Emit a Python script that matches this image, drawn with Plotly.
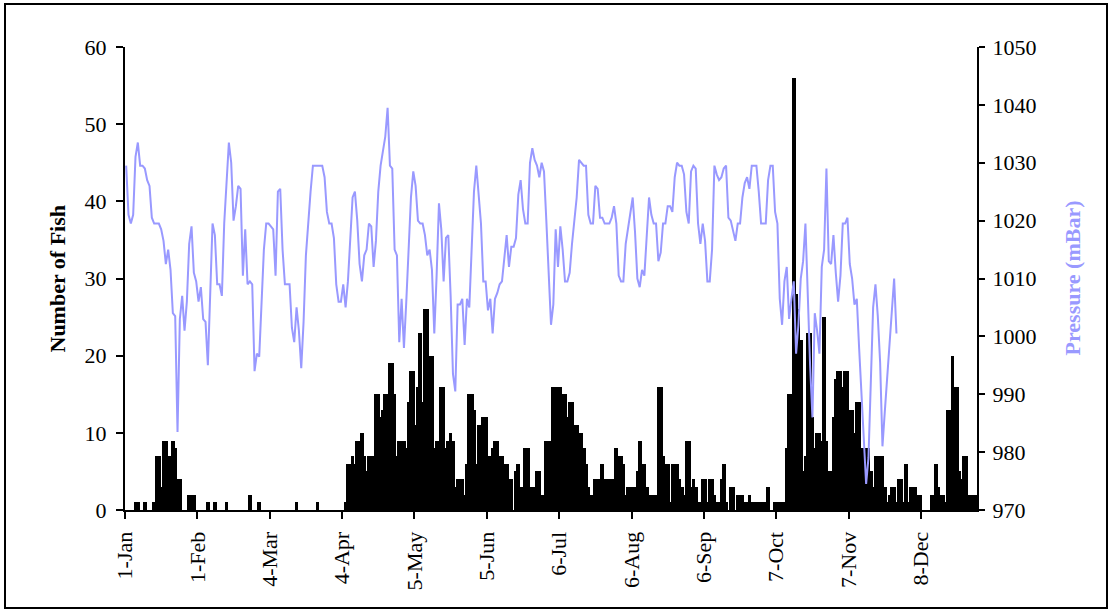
import pandas as pd
import plotly.graph_objects as go

YEAR = 2007

# Daily fish counts, one list per month
fish_jan = [0, 0, 0, 0, 1, 1, 0, 0, 1, 0, 0, 0, 1, 7, 7, 3, 9, 9, 7, 7,
            9, 8, 4, 4, 0, 0, 0, 2, 2, 2, 0]
fish_feb = [0, 0, 0, 0, 1, 0, 0, 1, 0, 0, 0, 0, 1, 0, 0, 0, 0, 0, 0, 0,
            0, 0, 2, 0, 0, 0, 1, 0]
fish_mar = [0, 0, 0, 0, 0, 0, 0, 0, 0, 0, 0, 0, 0, 0, 1, 0, 0, 0, 0, 0,
            0, 0, 0, 1, 0, 0, 0, 0, 0, 0, 0]
fish_apr = [0, 0, 0, 0, 1, 6, 6, 7, 6, 9, 9, 10, 7, 5, 7, 7, 7, 15, 15, 12,
            13, 15, 15, 19, 19, 15, 7, 9, 9, 9]
fish_may = [8, 14, 18, 18, 11, 16, 23, 14, 26, 26, 20, 20, 8, 9, 9, 16, 16, 8, 9, 10,
            9, 3, 4, 4, 4, 2, 6, 15, 15, 13, 6]
fish_jun = [11, 11, 12, 12, 7, 7, 8, 9, 9, 7, 7, 6, 6, 4, 4, 0, 5, 6, 3, 3,
            8, 8, 3, 3, 3, 5, 5, 2, 2, 9]
fish_jul = [9, 6, 16, 16, 16, 16, 15, 15, 12, 14, 14, 11, 11, 10, 10, 8, 6, 3, 2, 2,
            4, 4, 4, 6, 4, 3, 4, 4, 4, 8, 7]
fish_aug = [7, 6, 2, 3, 3, 3, 3, 5, 9, 6, 6, 3, 2, 2, 2, 2, 16, 16, 7, 6,
            6, 1, 6, 6, 6, 4, 3, 2, 9, 9, 3]
fish_sep = [4, 3, 1, 1, 4, 4, 1, 4, 4, 2, 1, 1, 4, 6, 1, 0, 3, 3, 0, 2,
            2, 2, 1, 1, 2, 1, 1, 1, 1, 1]
fish_oct = [1, 1, 3, 0, 0, 1, 1, 1, 1, 1, 8, 15, 15, 56, 28, 26, 22, 5, 7, 23,
            23, 12, 8, 10, 10, 9, 25, 9, 5, 5, 12]
fish_nov = [17, 18, 18, 16, 18, 18, 13, 13, 10, 14, 14, 8, 8, 8, 8, 5, 3, 7, 7, 7,
            7, 3, 1, 2, 3, 3, 1, 4, 4, 1]
fish_dec = [6, 1, 3, 3, 3, 2, 2, 0, 0, 0, 0, 2, 2, 6, 3, 2, 2, 1, 13, 13,
            20, 16, 16, 5, 4, 7, 7, 2, 2, 2, 2]

# Daily mean air pressure (mBar), one list per month; record stops late November
pres_jan = [1029.5, 1021, 1019.5, 1021, 1031, 1033.5, 1029.5, 1029.5, 1029, 1027,
            1026, 1020.5, 1019.5, 1019.5, 1019.5, 1018.5, 1016.5, 1012.5, 1015, 1011.5,
            1004, 1003.5, 983.5, 1003, 1007, 1001, 1006, 1016, 1019, 1011, 1009.5]
pres_feb = [1006, 1008.5, 1003, 1002.5, 995, 1009, 1019.5, 1017.5, 1009, 1009,
            1007, 1019.5, 1027.5, 1033.5, 1030, 1020, 1022.5, 1026, 1025.5, 1010.5,
            1018.5, 1009, 1009.5, 1009, 994, 997, 996.5, 1005]
pres_mar = [1015, 1019.5, 1019.5, 1019, 1018.5, 1010.5, 1025, 1025.5, 1015, 1009,
            1009, 1009, 1001.5, 999, 1005, 1001, 994.5, 1002.5, 1014, 1020,
            1025, 1029.5, 1029.5, 1029.5, 1029.5, 1029.5, 1027.5, 1021.5, 1019.5, 1019.5, 1017]
pres_apr = [1009, 1006, 1006, 1009, 1005, 1009.5, 1016, 1024, 1025, 1020,
            1012.5, 1009.5, 1014, 1015, 1019.5, 1019, 1012, 1016.5, 1025, 1029.5,
            1032, 1034.5, 1039.5, 1029.5, 1029, 1015, 1014, 999, 1006.5, 998]
pres_may = [1006, 1016, 1024, 1028.5, 1026, 1020, 1019.5, 1019.5, 1017.5, 1014,
            1015, 1011.5, 1000.5, 1010.5, 1023, 1018.5, 1009.5, 1017, 1017.5, 1007,
            993.5, 990.5, 1005.5, 1005.5, 1006.5, 998.5, 1006.5, 1005, 1016.5, 1025, 1029.5]
pres_jun = [1024, 1019.5, 1009.5, 1009.5, 1004.5, 1006.5, 1000.5, 1006.5, 1007.5, 1009,
            1009.5, 1013.5, 1017.5, 1012, 1015.5, 1015.5, 1017, 1024.5, 1027, 1022,
            1019.5, 1019.5, 1030, 1032.5, 1030.5, 1029.5, 1027.5, 1030, 1028.5, 1020]
pres_jul = [1009.5, 1002, 1005.5, 1018.5, 1012, 1019, 1015, 1009.5, 1009.5, 1011,
            1016, 1019.5, 1024, 1030.5, 1030, 1029.5, 1029.5, 1021, 1019.5, 1019.5,
            1026, 1025.5, 1020.5, 1020.5, 1019.5, 1019.5, 1019.5, 1020.5, 1022.5, 1019.5, 1010.5]
pres_aug = [1009.5, 1009.5, 1016, 1018.5, 1021.5, 1024, 1018, 1010, 1008.5, 1011.5,
            1010.5, 1017, 1024, 1021, 1019.5, 1019.5, 1013, 1014.5, 1019.5, 1019.5,
            1022.5, 1022.5, 1021.5, 1027.5, 1030, 1029.5, 1029.5, 1028, 1021.5, 1019.5, 1028.5]
pres_sep = [1029.5, 1029, 1019.5, 1016, 1019.5, 1016.5, 1009.5, 1009.5, 1015, 1029.5,
            1028, 1027, 1027.5, 1029, 1029.5, 1020.5, 1020, 1018.5, 1016.5, 1019.5,
            1019.5, 1024, 1026.5, 1027.5, 1025.5, 1029.5, 1029.5, 1029.5, 1025, 1019.5]
pres_oct = [1019.5, 1019.5, 1027, 1029.5, 1029.5, 1021.5, 1019.5, 1006.5, 1002, 1009.5,
            1012, 1003, 1006.5, 1009.5, 997, 1002, 1010, 1013, 1019.5, 1005,
            995, 986, 1004, 1001, 997, 1012, 1015, 1029, 1013, 1012.5, 1017.5]
pres_nov = [1011, 1006, 1010.5, 1019.5, 1019.5, 1020.5, 1012.5, 1010, 1005.5, 1006.5,
            998, 990.5, 983, 974.5, 979, 992, 1005, 1009, 1003.5, 995.5,
            981, 987, 993, 999, 1005, 1010, 1000.5]

tick_labels = ["1-Jan", "1-Feb", "4-Mar", "4-Apr", "5-May", "5-Jun",
               "6-Jul", "6-Aug", "6-Sep", "7-Oct", "7-Nov", "8-Dec"]

fish = (fish_jan + fish_feb + fish_mar + fish_apr + fish_may + fish_jun +
        fish_jul + fish_aug + fish_sep + fish_oct + fish_nov + fish_dec)
pressure = (pres_jan + pres_feb + pres_mar + pres_apr + pres_may + pres_jun +
            pres_jul + pres_aug + pres_sep + pres_oct + pres_nov)

days = pd.date_range(f"{YEAR}-01-01", periods=len(fish), freq="D")
pres_days = days[:len(pressure)]
tick_dates = pd.to_datetime([f"{t}-{YEAR}" for t in tick_labels], format="%d-%b-%Y")

DAY_MS = 86400000
W, H = 1110, 612
L, R, T, B = 125, 977, 47, 510          # plot-area edges in pixels
PW, PH = R - L, B - T

FONT = "Liberation Serif, Times New Roman, serif"
PRES_COLOR = "#9999FF"

fig = go.Figure()
# bars are a little wider than one day, so neighbouring days merge into solid blocks
fig.add_trace(go.Bar(
    x=days, y=fish, xperiod=DAY_MS, xperiodalignment="middle",
    width=1.6 * DAY_MS,
    marker=dict(color="black", line=dict(width=0)),
    yaxis="y", name="Number of Fish",
))
fig.add_trace(go.Scatter(
    x=pres_days, y=pressure, xperiod=DAY_MS, xperiodalignment="middle",
    mode="lines", line=dict(color=PRES_COLOR, width=2),
    yaxis="y2", name="Pressure (mBar)",
))

axis_common = dict(
    showline=True, linewidth=2, linecolor="black",
    ticks="outside", tickwidth=2, tickcolor="black",
    showgrid=False, zeroline=False,
    tickfont=dict(family=FONT, size=22, color="black"),
)

fig.update_layout(
    width=W, height=H,
    margin=dict(l=L, r=W - R, t=T, b=H - B, pad=0),
    paper_bgcolor="white", plot_bgcolor="white",
    showlegend=False, bargap=0,
    font=dict(family=FONT, size=22, color="black"),
    xaxis=dict(
        type="date", range=[f"{YEAR}-01-01", f"{YEAR + 1}-01-01"],
        tickmode="array", tickvals=tick_dates, ticktext=tick_labels,
        tickangle=-90, ticklen=7, ticklabelstandoff=4,
        **axis_common,
    ),
    yaxis=dict(
        range=[0, 60], tickmode="linear", tick0=0, dtick=10,
        ticklen=7, ticklabelstandoff=5,
        **axis_common,
    ),
    yaxis2=dict(
        range=[970, 1050], tickmode="linear", tick0=970, dtick=10,
        overlaying="y", side="right", ticklen=6, ticklabelstandoff=3,
        **axis_common,
    ),
    annotations=[
        dict(text="<b>Number of Fish</b>", xref="paper", yref="paper",
             x=(57 - L) / PW, y=0.5, textangle=-90, showarrow=False,
             xanchor="center", yanchor="middle",
             font=dict(family=FONT, size=22, color="black")),
        dict(text="<b>Pressure (mBar)</b>", xref="paper", yref="paper",
             x=(1072 - L) / PW, y=0.5, textangle=-90, showarrow=False,
             xanchor="center", yanchor="middle",
             font=dict(family=FONT, size=22, color=PRES_COLOR)),
    ],
    shapes=[
        dict(type="rect", xref="paper", yref="paper",
             x0=(5 - L) / PW, x1=(1107 - L) / PW,
             y0=(B - 608) / PH, y1=(B - 4) / PH,
             line=dict(color="black", width=2), fillcolor="rgba(0,0,0,0)",
             layer="below"),
    ],
)

fig.write_html("out.html")
